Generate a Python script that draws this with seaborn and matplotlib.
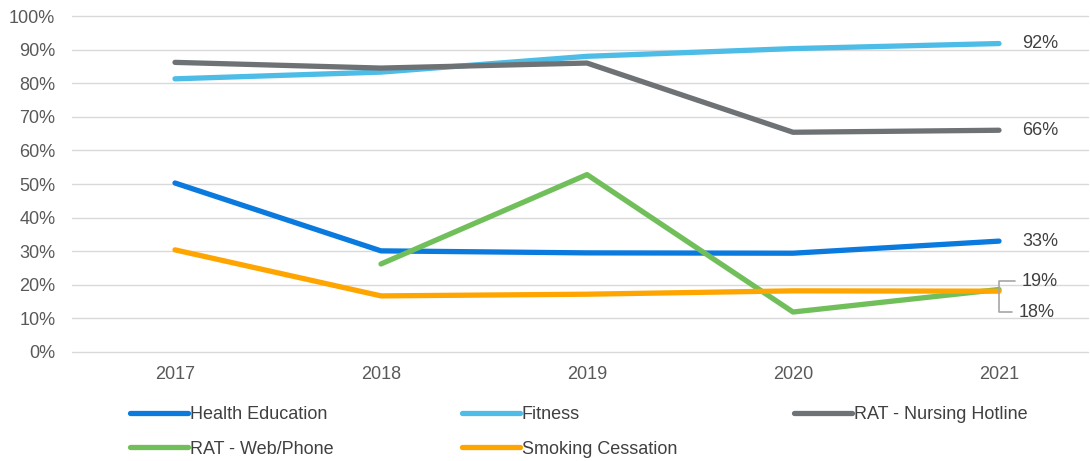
import matplotlib
matplotlib.use("Agg")
import matplotlib.pyplot as plt
from matplotlib.lines import Line2D
import seaborn as sns
import pandas as pd
import numpy as np

years = ["2017", "2018", "2019", "2020", "2021"]
health_education = [50.3, 30.1, 29.5, 29.4, 33.0]
fitness = [81.3, 83.3, 88.0, 90.3, 91.8]
nursing_hotline = [86.2, 84.5, 86.0, 65.4, 66.0]
web_phone = [np.nan, 26.2, 52.8, 11.9, 18.6]
smoking = [30.4, 16.7, 17.2, 18.2, 18.1]

series_names = ["Health Education", "Fitness", "RAT - Nursing Hotline",
                "RAT - Web/Phone", "Smoking Cessation"]
series_values = [health_education, fitness, nursing_hotline, web_phone, smoking]
colors = ["#0a7ade", "#4dbce6", "#6e7274", "#71bf5b", "#ffa500"]
end_labels = {"Fitness": "92%", "RAT - Nursing Hotline": "66%",
              "Health Education": "33%"}

rows = []
for name, vals in zip(series_names, series_values):
    for y, v in zip(years, vals):
        if not np.isnan(v):
            rows.append({"Year": y, "Value": v, "Series": name})
df = pd.DataFrame(rows)

sns.set_theme(style="white")
plt.rcParams["font.family"] = ["Liberation Sans", "DejaVu Sans"]

FS = 13
fig = plt.figure(figsize=(10.9, 4.61), dpi=100)
ax = fig.add_axes([72 / 1090, 1 - 352 / 461, (1088 - 72) / 1090, (352 - 16) / 461])

sns.lineplot(data=df, x="Year", y="Value", hue="Series", hue_order=series_names,
             palette=dict(zip(series_names, colors)), linewidth=3.8,
             legend=False, ax=ax, sort=False)
for ln in ax.lines:
    ln.set_solid_capstyle("round")
    ln.set_solid_joinstyle("round")

ax.set_ylim(0, 100)
ax.set_xlim(-0.5, (1088 - 175) / 206)
ax.set_yticks(np.arange(0, 101, 10))
ax.set_yticklabels([f"{v}%" for v in range(0, 101, 10)])
ax.grid(axis="y", color="#d9d9d9", linewidth=1)
ax.set_axisbelow(True)
for gl in ax.get_ygridlines():
    gl.set_clip_on(False)
for s in ax.spines.values():
    s.set_visible(False)
ax.tick_params(axis="y", length=0, pad=12, labelsize=FS, labelcolor="#595959")
ax.tick_params(axis="x", length=0, pad=10, labelsize=FS, labelcolor="#595959")
ax.set_xlabel("")
ax.set_ylabel("")

last = len(years) - 1
for name, vals in zip(series_names, series_values):
    if name in end_labels:
        ax.annotate(end_labels[name], xy=(last, vals[last]), xytext=(17, 0),
                    textcoords="offset points", va="center", ha="left",
                    fontsize=FS, color="#404040")

# leader-line labels for the overlapping end points
ax.annotate("19%", xy=(last, web_phone[last]), xytext=(16, 6), textcoords="offset points",
            va="center", ha="left", fontsize=FS, color="#404040",
            arrowprops=dict(arrowstyle="-", color="#a6a6a6", lw=1.2, shrinkA=2, shrinkB=0,
                            connectionstyle="angle,angleA=0,angleB=90,rad=0"))
ax.annotate("18%", xy=(last, smoking[last]), xytext=(14, -15), textcoords="offset points",
            va="center", ha="left", fontsize=FS, color="#404040",
            arrowprops=dict(arrowstyle="-", color="#a6a6a6", lw=1.2, shrinkA=2, shrinkB=0,
                            connectionstyle="angle,angleA=0,angleB=90,rad=0"))

# legend: three columns placed separately
handles = [Line2D([0], [0], color=c, lw=3.8, solid_capstyle="round") for c in colors]
col_x = [130 / 1090, 462 / 1090, 794 / 1090]
columns = [[0, 3], [1, 4], [2]]
for cx, idx in zip(col_x, columns):
    fig.legend([handles[i] for i in idx], [series_names[i] for i in idx],
               loc="upper left", bbox_to_anchor=(cx, 1 - 406 / 461),
               frameon=False, fontsize=FS, handlelength=3.2, handletextpad=0.1,
               labelspacing=0.97, borderpad=0, borderaxespad=0, labelcolor="#404040")

fig.savefig("out.png", dpi=100)
